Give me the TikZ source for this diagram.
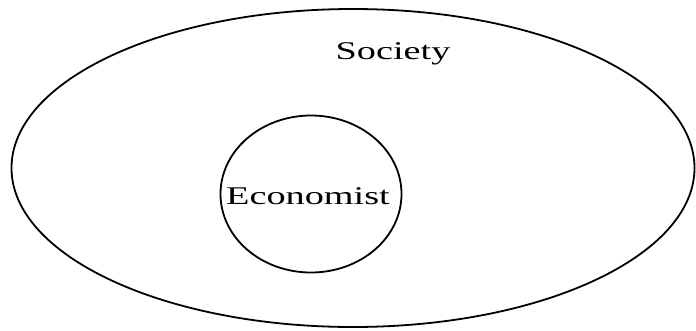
\documentclass[tikz,border=0pt]{standalone}
\usepackage{fontspec}
\setmainfont{Liberation Serif}
\newfontfamily\labelfont[FakeStretch=1.5]{Liberation Serif}
\usetikzlibrary{positioning, shapes.geometric}

\begin{document}
\begin{tikzpicture}[
    x=1pt, y=-1pt,
    set/.style={draw, ellipse, line width=1.8pt, inner sep=0pt},
    label/.style={font=\fontsize{25.5}{27}\labelfont, inner sep=0pt}
  ]
  \useasboundingbox (0,0) rectangle (696,330);

  % --- outer set ---
  \node[set, minimum width=683pt, minimum height=318pt] (society) at (353,168) {};
  \node[label] (societylbl) at (393,54) {Society};

  % --- inner set ---
  \node[set, minimum width=181pt, minimum height=157pt] (economist) at (311,194) {};
  \node[label] (economistlbl) at (308,196) {Economist};

\end{tikzpicture}
\end{document}
